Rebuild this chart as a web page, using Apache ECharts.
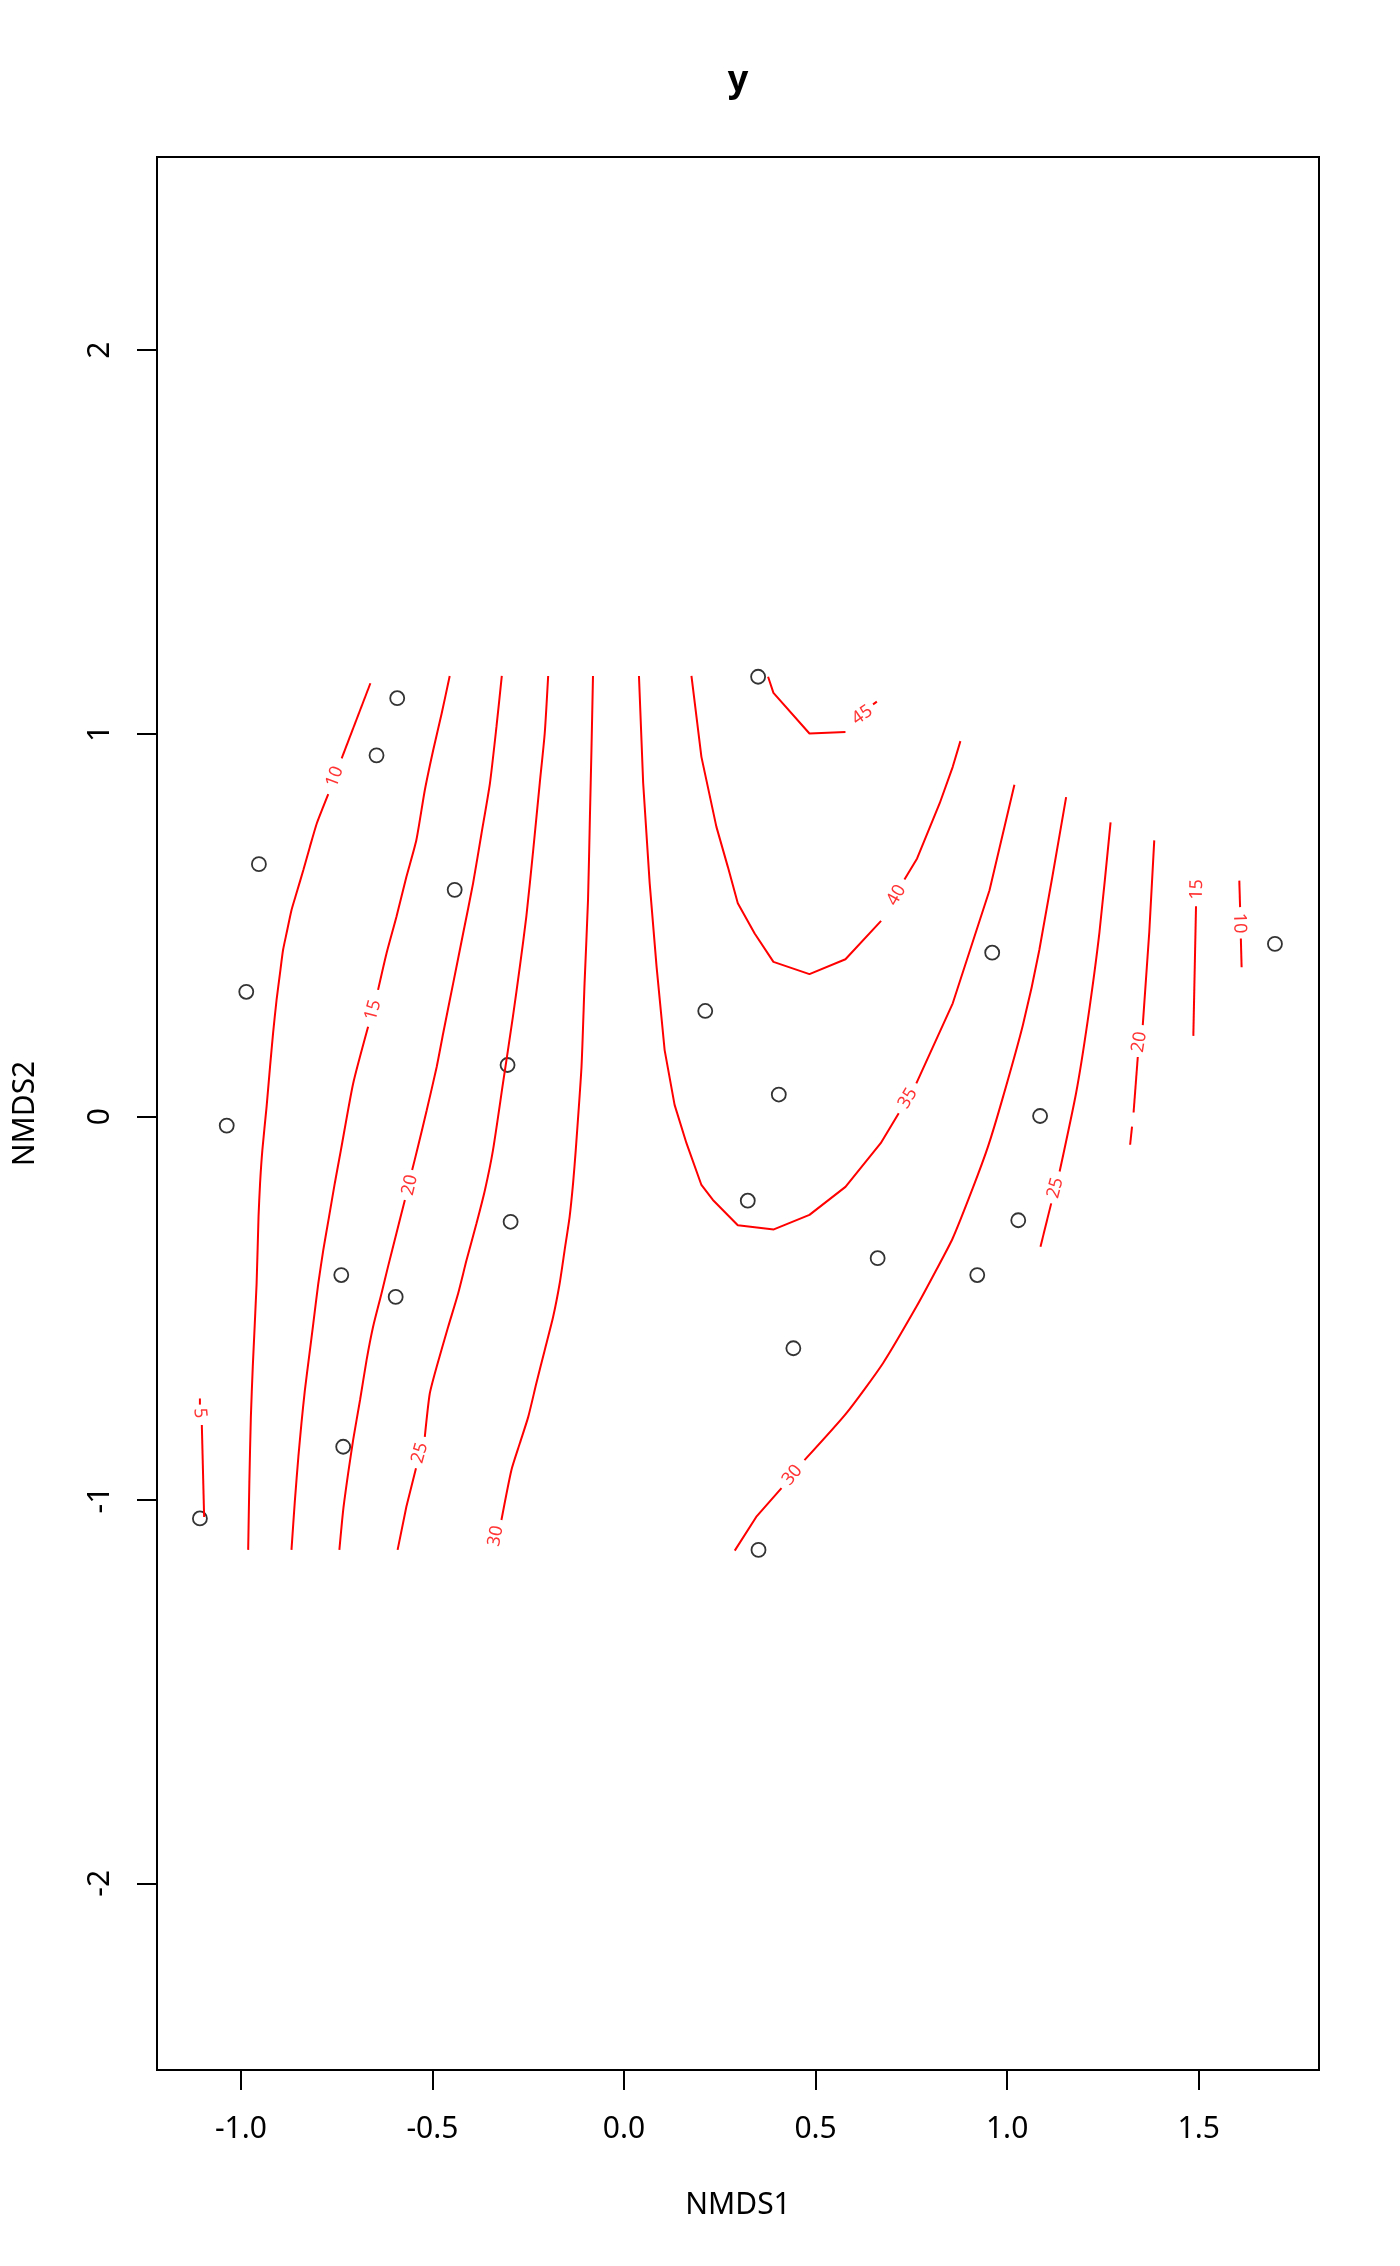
<!DOCTYPE html>
<html>
<head>
<meta charset="utf-8">
<script src="https://cdn.jsdelivr.net/npm/echarts@6/dist/echarts.min.js"></script>
<style>html,body{margin:0;padding:0;background:#fff}#c{width:1400px;height:2266px}</style>
</head>
<body>
<div id="c"></div>
<script>
// ---- data ----
const nmds1 = [0.350, -0.592, -0.646, -0.953, -0.442, -0.986, -0.304, -1.037, -0.296, -0.738, -0.596, -0.733, -1.107, 0.961, 0.212, 0.404, 1.086, 0.323, 1.029, 0.662, 0.922, 0.442, 0.351, 1.699];
const nmds2 = [1.148, 1.092, 0.943, 0.659, 0.592, 0.326, 0.135, -0.023, -0.274, -0.413, -0.470, -0.861, -1.048, 0.428, 0.276, 0.058, 0.002, -0.219, -0.270, -0.369, -0.413, -0.604, -1.130, 0.451];

const xTicks = [-1, -0.5, 0, 0.5, 1, 1.5];
const yTicks = [-2, -1, 0, 1, 2];

const contour5 = [
  [[-1.107, -0.735], [-1.107, -0.751]],
  [[-1.102, -0.804], [-1.096, -1.044]]
];
const contour10 = [
  [[-0.662, 1.131], [-0.737, 0.935]],
  [[-0.772, 0.842], [-0.785, 0.809], [-0.802, 0.765], [-0.820, 0.704], [-0.837, 0.644], [-0.855, 0.583], [-0.868, 0.539], [-0.881, 0.478], [-0.890, 0.435], [-0.898, 0.374], [-0.907, 0.304], [-0.916, 0.218], [-0.924, 0.130], [-0.933, 0.026], [-0.944, -0.087], [-0.950, -0.174], [-0.954, -0.261], [-0.959, -0.435], [-0.969, -0.652], [-0.974, -0.783], [-0.978, -0.956], [-0.981, -1.130]],
  [[1.606, 0.616], [1.608, 0.547]],
  [[1.610, 0.465], [1.612, 0.390]]
];
const contour15 = [
  [[-0.455, 1.150], [-0.476, 1.052], [-0.498, 0.957], [-0.520, 0.852], [-0.542, 0.722], [-0.568, 0.626], [-0.594, 0.522], [-0.620, 0.426], [-0.642, 0.331]],
  [[-0.668, 0.235], [-0.707, 0.087], [-0.739, -0.087], [-0.755, -0.174], [-0.770, -0.261], [-0.785, -0.348], [-0.798, -0.435], [-0.811, -0.539], [-0.822, -0.626], [-0.833, -0.713], [-0.842, -0.800], [-0.850, -0.887], [-0.859, -1.000], [-0.868, -1.130]],
  [[1.493, 0.549], [1.486, 0.211]]
];
const contour20 = [
  [[-0.319, 1.150], [-0.333, 1.017], [-0.350, 0.870], [-0.372, 0.739], [-0.394, 0.609], [-0.420, 0.478], [-0.446, 0.348], [-0.472, 0.218], [-0.489, 0.130], [-0.515, 0.017], [-0.540, -0.087], [-0.553, -0.139]],
  [[-0.572, -0.217], [-0.594, -0.304], [-0.616, -0.391], [-0.633, -0.461], [-0.655, -0.548], [-0.672, -0.635], [-0.689, -0.739], [-0.707, -0.843], [-0.720, -0.930], [-0.733, -1.026], [-0.743, -1.130]],
  [[1.384, 0.721], [1.371, 0.482], [1.354, 0.239]],
  [[1.341, 0.156], [1.330, 0.011]],
  [[1.326, -0.026], [1.321, -0.073]]
];
const contour25 = [
  [[-0.198, 1.150], [-0.207, 1.000], [-0.220, 0.870], [-0.237, 0.696], [-0.255, 0.522], [-0.272, 0.391], [-0.290, 0.261], [-0.316, 0.087], [-0.342, -0.087], [-0.363, -0.191], [-0.385, -0.278], [-0.411, -0.374], [-0.433, -0.461], [-0.459, -0.548], [-0.489, -0.652], [-0.507, -0.722], [-0.520, -0.835]],
  [[-0.543, -0.917], [-0.568, -1.017], [-0.591, -1.130]],
  [[1.270, 0.768], [1.241, 0.482], [1.210, 0.249], [1.180, 0.062], [1.137, -0.143]],
  [[1.115, -0.226], [1.087, -0.339]]
];
const contour30 = [
  [[-0.081, 1.150], [-0.085, 0.957], [-0.089, 0.783], [-0.094, 0.565], [-0.103, 0.348], [-0.111, 0.130], [-0.126, -0.087], [-0.133, -0.174], [-0.142, -0.261], [-0.155, -0.348], [-0.168, -0.435], [-0.185, -0.522], [-0.207, -0.609], [-0.229, -0.696], [-0.250, -0.783], [-0.272, -0.852], [-0.294, -0.922], [-0.320, -1.052]],
  [[1.154, 0.834], [1.084, 0.435], [1.041, 0.239], [0.987, 0.044], [0.950, -0.078], [0.910, -0.187], [0.858, -0.317], [0.815, -0.400], [0.763, -0.496], [0.676, -0.643], [0.580, -0.774], [0.471, -0.896]],
  [[0.411, -0.969], [0.345, -1.044], [0.289, -1.132]]
];
const contour35 = [
  [[0.039, 1.150], [0.050, 0.870], [0.067, 0.609], [0.085, 0.391], [0.106, 0.174], [0.132, 0.031], [0.163, -0.069], [0.202, -0.178], [0.232, -0.217], [0.297, -0.283], [0.391, -0.294], [0.484, -0.256], [0.578, -0.183], [0.670, -0.069], [0.717, 0.009]],
  [[0.763, 0.087], [0.858, 0.296], [0.954, 0.591], [1.019, 0.866]]
];
const contour40 = [
  [[0.176, 1.150], [0.202, 0.939], [0.241, 0.757], [0.271, 0.652], [0.297, 0.557], [0.341, 0.478], [0.390, 0.404], [0.484, 0.372], [0.578, 0.411], [0.671, 0.511]],
  [[0.732, 0.619], [0.765, 0.674], [0.824, 0.818], [0.858, 0.913], [0.878, 0.980]]
];
const contour45 = [
  [[0.376, 1.148], [0.390, 1.106], [0.484, 1.000], [0.578, 1.004]],
  [[0.650, 1.076], [0.660, 1.083]]
];
const contourLevels = [5, 10, 15, 20, 25, 30, 35, 40, 45];
const contourPieces = [contour5, contour10, contour15, contour20, contour25, contour30, contour35, contour40, contour45];

// label: [level, NMDS1, NMDS2]
const contourLabels = [
  [5, -1.107, -0.773],
  [10, -0.755, 0.887],
  [15, -0.655, 0.278],
  [20, -0.559, -0.178],
  [25, -0.533, -0.877],
  [30, -0.335, -1.094],
  [35, 0.741, 0.048],
  [40, 0.711, 0.578],
  [45, 0.622, 1.048],
  [30, 0.439, -0.935],
  [25, 1.126, -0.186],
  [20, 1.345, 0.195],
  [15, 1.495, 0.593],
  [10, 1.606, 0.505]
];

// ---- layout ----
const F = "'Noto Sans', 'Open Sans', sans-serif";
const W = 1400, H = 2266;
const G = {left: 157, right: 81, top: 157, bottom: 196};
const XR = [-1.219, 1.814], YR = [-2.487, 2.504];
const sx = (W - G.left - G.right) / (XR[1] - XR[0]);
const sy = (H - G.top - G.bottom) / (YR[1] - YR[0]);

function labelAngle(level, x, y) {
  const pts = [];
  contourPieces[contourLevels.indexOf(level)].forEach(p => p.forEach(q => pts.push(q)));
  pts.sort((a, b) => Math.hypot(a[0] - x, a[1] - y) - Math.hypot(b[0] - x, b[1] - y));
  const a = pts[0], b = pts[1];
  let ang = Math.atan2((b[1] - a[1]) * sy, (b[0] - a[0]) * sx) * 180 / Math.PI;
  if (ang > 90) ang -= 180;
  if (ang <= -90) ang += 180;
  return ang;
}

const series = [];
contourPieces.forEach((pieces, i) => {
  const lvl = contourLevels[i];
  pieces.forEach(piece => {
    series.push({
      type: 'line', name: 'c' + lvl, data: piece,
      symbol: 'none', showSymbol: false, silent: true, z: 3,
      smooth: lvl <= 30 && piece.length > 3 ? 0.2 : false,
      lineStyle: {color: '#ff0000', width: 2}
    });
  });
});
series.push({
  type: 'scatter', name: 'sites', z: 2, silent: true,
  data: nmds1.map((v, i) => [v, nmds2[i]]),
  symbol: 'circle', symbolSize: 14,
  itemStyle: {color: 'rgba(0,0,0,0)', borderColor: '#000', borderWidth: 1.8}
});
series.push({
  type: 'scatter', name: 'labels', z: 4, silent: true,
  symbolSize: 1, itemStyle: {color: 'rgba(0,0,0,0)'},
  data: contourLabels.map(l => ({
    name: String(l[0]), value: [l[1], l[2]],
    label: {rotate: labelAngle(l[0], l[1], l[2])}
  })),
  label: {show: true, position: 'inside', formatter: '{b}', color: '#ff0000', fontSize: 18, fontFamily: F}
});

const chart = echarts.init(document.getElementById('c'), null, {renderer: 'canvas'});
chart.setOption({
  animation: false,
  backgroundColor: '#fff',
  title: {
    text: 'y', left: 738, top: 63, textAlign: 'center', padding: 0,
    textStyle: {fontSize: 36, fontWeight: 'bold', color: '#000', fontFamily: F}
  },
  grid: {
    left: G.left, right: G.right, top: G.top, bottom: G.bottom,
    show: true, borderColor: '#000', borderWidth: 2, containLabel: false, outerBoundsMode: 'none'
  },
  xAxis: {
    type: 'value', min: XR[0], max: XR[1],
    axisLine: {show: true, onZero: false, lineStyle: {color: '#000', width: 2}},
    axisTick: {show: true, customValues: xTicks, length: 20, lineStyle: {color: '#000', width: 2}},
    axisLabel: {show: true, customValues: xTicks, formatter: v => Number(v).toFixed(1), margin: 44, color: '#000', fontSize: 30, fontFamily: F},
    splitLine: {show: false},
    name: 'NMDS1', nameLocation: 'middle', nameGap: 120,
    nameTextStyle: {fontSize: 30, color: '#000', fontFamily: F}
  },
  yAxis: {
    type: 'value', min: YR[0], max: YR[1],
    axisLine: {show: true, onZero: false, lineStyle: {color: '#000', width: 2}},
    axisTick: {show: true, customValues: yTicks, length: 20, lineStyle: {color: '#000', width: 2}},
    axisLabel: {show: true, customValues: yTicks, formatter: v => String(v), rotate: 90, margin: 42, color: '#000', fontSize: 30, fontFamily: F},
    splitLine: {show: false},
    name: 'NMDS2', nameLocation: 'middle', nameGap: 117,
    nameTextStyle: {fontSize: 30, color: '#000', fontFamily: F}
  },
  series: series
});
</script>
</body>
</html>
